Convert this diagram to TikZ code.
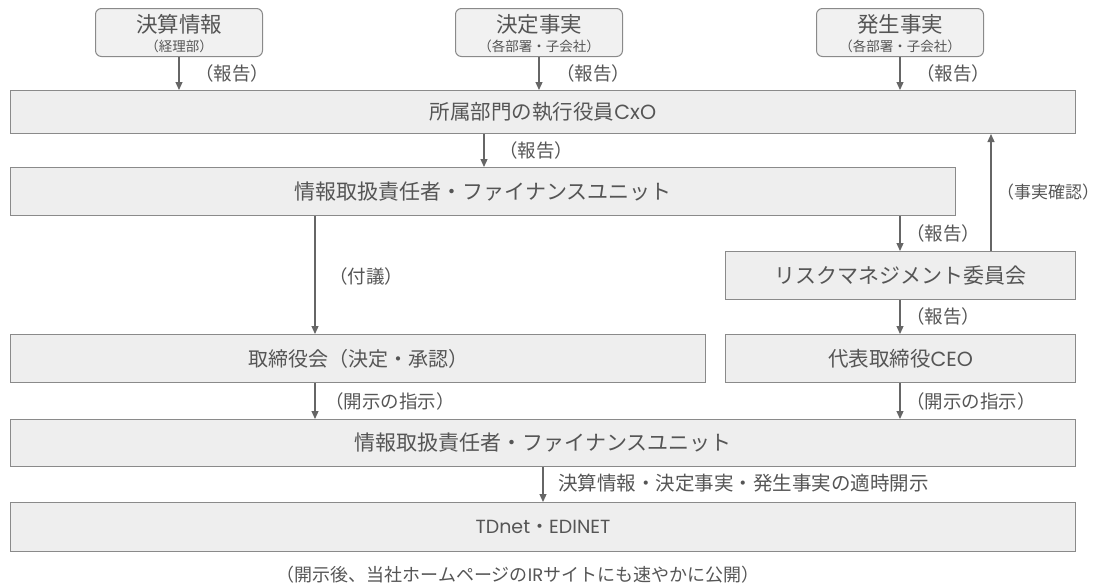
\documentclass[tikz,border=0pt]{standalone}
\usepackage{fontspec}
\setmainfont{Noto Sans CJK JP}
\newfontfamily\lat{Poppins}
\usetikzlibrary{arrows.meta,calc}
\definecolor{boxfill}{HTML}{EEEEEE}
\definecolor{boxline}{HTML}{8A8A8A}
\definecolor{txt}{HTML}{555555}
\definecolor{arrcol}{HTML}{666666}
\newcommand{\fs}[1]{\fontsize{#1}{#1}\selectfont}
\begin{document}
\begin{tikzpicture}[x=1pt,y=-1pt,
  box/.style={draw=boxline,fill=boxfill,line width=1pt,text=txt,inner sep=0pt,anchor=north west},
  topbox/.style={draw=boxline,fill=boxfill!80!white,line width=1pt,rounded corners=6pt,inner sep=0pt,anchor=north west,minimum width=167pt,minimum height=48pt},
  toptitle/.style={text=txt,font=\fs{21.5},inner sep=0pt},
  topsub/.style={text=txt,font=\fs{13.5},inner sep=0pt},
  arr/.style={draw=arrcol,line width=1.2pt,-{Triangle[length=8pt,width=7pt]}},
  lbl/.style={text=txt,font=\fs{18.5},inner sep=0pt,anchor=west}]
\useasboundingbox (0,0) rectangle (1098,587);
% top boxes
\node[topbox] (kessan) at (95,8) {};
\node[toptitle] (kessanT) at ($(kessan.north)+(0,16)$) {決算情報};
\node[topsub] (kessanS) at ($(kessan.north)+(0,38)$) {（経理部）};
\node[topbox] (kettei) at (455,8) {};
\node[toptitle] (ketteiT) at ($(kettei.north)+(0,16)$) {決定事実};
\node[topsub] (ketteiS) at ($(kettei.north)+(0,38)$) {（各部署・子会社）};
\node[topbox] (hassei) at (816,8) {};
\node[toptitle] (hasseiT) at ($(hassei.north)+(0,16)$) {発生事実};
\node[topsub] (hasseiS) at ($(hassei.north)+(0,38)$) {（各部署・子会社）};
% main boxes
\node[box,minimum width=1065pt,minimum height=43pt,font=\fs{20.5}] (cxo) at (10,90) {所属部門の執行役員{\lat CxO}};
\node[box,minimum width=945pt,minimum height=48pt,font=\fs{21}] (fu1) at (10,167) {情報取扱責任者・ファイナンスユニット};
\node[box,minimum width=350pt,minimum height=48pt,font=\fs{21}] (risk) at (725,251) {リスクマネジメント委員会};
\node[box,minimum width=695pt,minimum height=48pt,font=\fs{20}] (board) at (10,334) {取締役会（決定・承認）};
\node[box,minimum width=350pt,minimum height=48pt,font=\fs{20.5}] (ceo) at (725,334) {代表取締役{\lat CEO}};
\node[box,minimum width=1065pt,minimum height=47pt,font=\fs{21}] (fu2) at (10,419) {情報取扱責任者・ファイナンスユニット};
\node[box,minimum width=1065pt,minimum height=49pt,font=\fs{19}] (tdnet) at (10,502) {{\lat TDnet}・{\lat EDINET}};
% arrows top
\draw[arr] (kessan.south) -- (cxo.north -| kessan.south);
\draw[arr] (kettei.south) -- (cxo.north -| kettei.south);
\draw[arr] (hassei.south) -- (cxo.north -| hassei.south);
\node[lbl] (l1) at (195,73) {（報告）};
\node[lbl] (l2) at (556,73) {（報告）};
\node[lbl] (l3) at (916,73) {（報告）};
% cxo -> fu1
\draw[arr] (cxo.south -| 484,0) -- (fu1.north -| 484,0);
\node[lbl] (l4) at (499,150) {（報告）};
% fu1 -> board
\draw[arr] (fu1.south -| 315,0) -- (board.north -| 315,0);
\node[lbl] (l5) at (329,276) {（付議）};
% fu1 -> risk
\draw[arr] (fu1.south -| 900,0) -- (risk.north -| 900,0);
\node[lbl] (l6) at (906,233) {（報告）};
% risk -> cxo
\draw[arr] (risk.north -| 991,0) -- (cxo.south -| 991,0);
\node[lbl,font=\fs{17}] (l7) at (997,192) {（事実確認）};
% risk -> ceo
\draw[arr] (risk.south -| 900,0) -- (ceo.north -| 900,0);
\node[lbl] (l8) at (906,316) {（報告）};
% board -> fu2, ceo -> fu2
\draw[arr] (board.south -| 315,0) -- (fu2.north -| 315,0);
\node[lbl] (l9) at (325,401) {（開示の指示）};
\draw[arr] (ceo.south -| 900,0) -- (fu2.north -| 900,0);
\node[lbl] (l10) at (906,401) {（開示の指示）};
% fu2 -> tdnet
\draw[arr] (fu2.south -| 543,0) -- (tdnet.north -| 543,0);
\node[lbl,font=\fs{19.5}] (l11) at (558,483) {決算情報・決定事実・発生事実の適時開示};
% bottom note
\node[text=txt,font=\fs{18},inner sep=0pt] (note) at (518,575) {（開示後、当社ホームページの{\lat IR}サイトにも速やかに公開）};
\end{tikzpicture}
\end{document}
